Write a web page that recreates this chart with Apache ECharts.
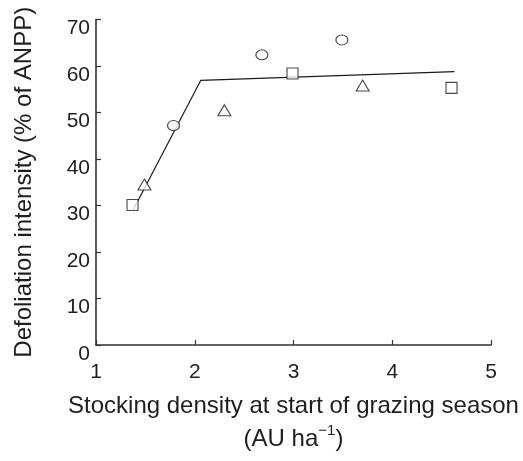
<!DOCTYPE html>
<html>
<head>
<meta charset="utf-8">
<script src="https://cdn.jsdelivr.net/npm/echarts@6/dist/echarts.min.js"></script>
<style>html,body{margin:0;padding:0;background:#fff;}#c{width:523px;height:461px;}</style>
</head>
<body>
<div id="c"></div>
<script>
// Data
const circleX = [1.785, 2.68, 3.49];
const circleY = [47.2, 62.4, 65.6];
const squareX = [1.37, 2.99, 4.60];
const squareY = [30.1, 58.4, 55.3];
const triangleX = [1.49, 2.30, 3.70];
const triangleY = [34.5, 50.5, 55.8];
const fitX = [1.38, 2.06, 4.63];
const fitY = [29.2, 56.9, 58.8];
const xTicks = [1, 2, 3, 4, 5];
const yTicks = [0, 10, 20, 30, 40, 50, 60, 70];

const FONT = '"Liberation Sans", Arial, sans-serif';
const TXT = '#1e1e1e';
const pair = (xs, ys) => xs.map((x, i) => [x, ys[i]]);
const markerStyle = { color: '#fff', borderColor: '#1a1a1a', borderWidth: 1.1 };

const chart = echarts.init(document.getElementById('c'), null, { renderer: 'canvas' });
chart.setOption({
  animation: false,
  backgroundColor: '#fff',
  grid: { left: 96, right: 32, top: 12, bottom: 106, containLabel: false },
  xAxis: {
    type: 'value', min: xTicks[0], max: xTicks[xTicks.length - 1], interval: 1,
    axisLine: { lineStyle: { color: '#333', width: 1.6 } },
    axisTick: { inside: true, length: 5, lineStyle: { color: '#333', width: 1.2 } },
    splitLine: { show: false },
    axisLabel: { color: TXT, fontSize: 21, fontFamily: FONT, margin: 17 },
    name: 'Stocking density at start of grazing season\n(AU ha{sup|\u22121})',
    nameLocation: 'middle', nameGap: 45,
    nameTextStyle: {
      color: TXT, fontSize: 24, fontFamily: FONT, lineHeight: 33, align: 'center',
      rich: { sup: { fontSize: 15, fontFamily: FONT, color: TXT, verticalAlign: 'top', lineHeight: 24 } }
    }
  },
  yAxis: {
    type: 'value', min: yTicks[0], max: yTicks[yTicks.length - 1], interval: 10,
    axisLine: { show: true, lineStyle: { color: '#333', width: 1.6 } },
    axisTick: { show: true, inside: true, length: 5, lineStyle: { color: '#333', width: 1.2 } },
    splitLine: { show: false },
    axisLabel: { color: TXT, fontSize: 21, fontFamily: FONT, margin: 6, lineHeight: 18, formatter: (v) => '\n' + v },
    name: 'Defoliation intensity (% of ANPP)',
    nameLocation: 'middle', nameGap: 60,
    nameTextStyle: { color: TXT, fontSize: 24, fontFamily: FONT }
  },
  series: [
    { type: 'line', data: pair(fitX, fitY), symbol: 'none', lineStyle: { color: '#1a1a1a', width: 1.2 }, z: 1 },
    { type: 'scatter', data: pair(circleX, circleY), symbol: 'circle', symbolSize: [12, 10], itemStyle: markerStyle, z: 2 },
    { type: 'scatter', data: pair(squareX, squareY), symbol: 'rect', symbolSize: 11, itemStyle: markerStyle, z: 2 },
    { type: 'scatter', data: pair(triangleX, triangleY), symbol: 'triangle', symbolSize: [13, 11], itemStyle: markerStyle, z: 2 }
  ]
});
</script>
</body>
</html>
